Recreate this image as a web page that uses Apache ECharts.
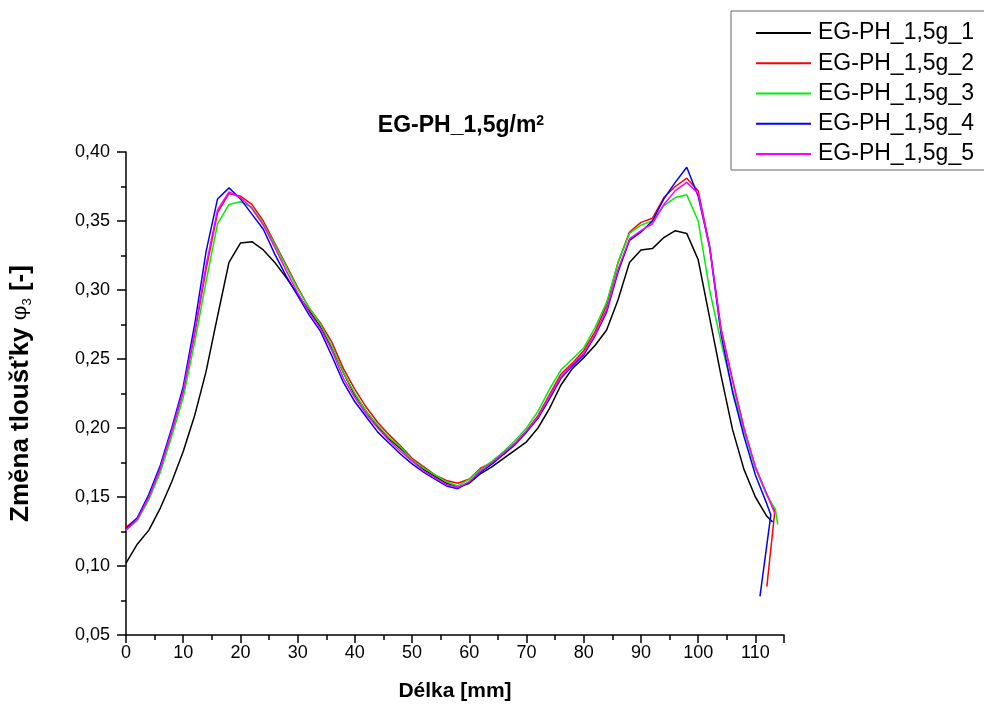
<!DOCTYPE html>
<html>
<head>
<meta charset="utf-8">
<script src="https://cdn.jsdelivr.net/npm/echarts@6/dist/echarts.min.js"></script>
<style>html,body{margin:0;padding:0;background:#fff;}#c{width:984px;height:711px;}</style>
</head>
<body>
<div id="c"></div>
<script>
const xValues = [0,2,4,6,8,10,12,14,16,18,20,22,24,26,28,30,32,34,36,38,40,42,44,46,48,50,52,54,56,58,60,62,64,66,68,70,72,74,76,78,80,82,84,86,88,90,92,94,96,98,100,102,104,106,108,110,112];
const seriesNames = ['EG-PH_1,5g_1','EG-PH_1,5g_2','EG-PH_1,5g_3','EG-PH_1,5g_4','EG-PH_1,5g_5'];
const seriesColors = ['#000000','#ff0000','#00ee00','#0000ff','#ff00ff'];

const s1 = [0.102,0.116,0.126,0.142,0.161,0.183,0.209,0.241,0.281,0.320,0.334,0.335,0.329,0.320,0.309,0.297,0.285,0.273,0.258,0.240,0.224,0.212,0.201,0.192,0.185,0.177,0.170,0.165,0.160,0.157,0.160,0.167,0.172,0.178,0.184,0.190,0.200,0.214,0.231,0.243,0.251,0.260,0.271,0.293,0.320,0.329,0.330,0.338,0.343,0.341,0.322,0.280,0.238,0.199,0.170,0.150,0.136];
const s1TailX = [113];
const s1TailY = [0.132];

const s2 = [0.128,0.135,0.150,0.170,0.197,0.226,0.268,0.315,0.356,0.370,0.368,0.362,0.350,0.334,0.318,0.302,0.287,0.276,0.262,0.243,0.228,0.215,0.204,0.195,0.187,0.178,0.172,0.166,0.162,0.160,0.163,0.171,0.175,0.181,0.189,0.198,0.209,0.224,0.239,0.247,0.256,0.270,0.289,0.320,0.342,0.349,0.352,0.367,0.375,0.381,0.372,0.332,0.272,0.235,0.200,0.171,0.152];
const s2TailX = [113.4, 112];
const s2TailY = [0.140, 0.085];

const s3 = [0.126,0.133,0.148,0.168,0.194,0.222,0.262,0.306,0.348,0.362,0.364,0.360,0.348,0.333,0.317,0.301,0.287,0.275,0.259,0.240,0.225,0.212,0.202,0.193,0.186,0.177,0.171,0.166,0.161,0.158,0.163,0.170,0.176,0.183,0.191,0.200,0.212,0.228,0.242,0.250,0.258,0.273,0.291,0.320,0.341,0.347,0.350,0.361,0.367,0.369,0.350,0.300,0.262,0.228,0.198,0.171,0.151];
const s3TailX = [113.5, 113.9];
const s3TailY = [0.141, 0.130];

const s4 = [0.127,0.135,0.152,0.173,0.200,0.230,0.275,0.328,0.366,0.374,0.366,0.355,0.344,0.326,0.310,0.296,0.282,0.270,0.252,0.233,0.219,0.208,0.197,0.189,0.181,0.174,0.168,0.163,0.158,0.156,0.161,0.168,0.174,0.181,0.188,0.197,0.207,0.221,0.236,0.245,0.253,0.267,0.284,0.313,0.336,0.342,0.350,0.366,0.378,0.389,0.368,0.331,0.268,0.226,0.194,0.166,0.145];
const s4TailX = [112.7, 110.8];
const s4TailY = [0.137, 0.078];

const s5 = [0.126,0.134,0.150,0.171,0.198,0.227,0.270,0.318,0.358,0.371,0.367,0.359,0.347,0.331,0.314,0.298,0.284,0.272,0.256,0.236,0.222,0.210,0.200,0.191,0.183,0.176,0.169,0.164,0.159,0.157,0.161,0.169,0.175,0.182,0.189,0.198,0.208,0.223,0.237,0.246,0.254,0.268,0.286,0.315,0.337,0.343,0.348,0.362,0.372,0.378,0.370,0.331,0.271,0.234,0.200,0.172,0.152];
const s5TailX = [113.4];
const s5TailY = [0.138];

const allY = [s1,s2,s3,s4,s5];
const allTailX = [s1TailX,s2TailX,s3TailX,s4TailX,s5TailX];
const allTailY = [s1TailY,s2TailY,s3TailY,s4TailY,s5TailY];

const FONT = 'Liberation Sans, Arial, sans-serif';

const series = seriesNames.map((name, k) => ({
  name: name,
  type: 'line',
  symbol: 'none',
  smooth: false,
  color: seriesColors[k],
  itemStyle: { color: seriesColors[k] },
  lineStyle: { width: 1.5, color: seriesColors[k] },
  data: xValues.map((x, i) => [x, allY[k][i]]).concat(allTailX[k].map((x, i) => [x, allTailY[k][i]])),
  z: 2 + k
}));

const chart = echarts.init(document.getElementById('c'), null, { renderer: 'canvas' });
chart.setOption({
  animation: false,
  backgroundColor: '#ffffff',
  title: {
    text: '{a|EG-PH_1,5g/m}{b|2}',
    left: 456,
    top: 109,
    textAlign: 'center',
    textStyle: {
      rich: {
        a: { fontFamily: FONT, fontWeight: 'bold', fontSize: 23, color: '#000' },
        b: { fontFamily: FONT, fontWeight: 'bold', fontSize: 14, color: '#000', verticalAlign: 'top', padding: [0,0,8,0] }
      }
    }
  },
  legend: {
    orient: 'vertical',
    left: 731,
    top: 11,
    padding: [9, 60, 3, 25],
    borderColor: '#666',
    borderWidth: 1,
    itemWidth: 55,
    itemHeight: 2,
    itemGap: 4.25,
    textStyle: { fontFamily: FONT, fontSize: 23, color: '#000', lineHeight: 26, padding: [0,0,0,2] },
    data: seriesNames.map(n => ({ name: n, icon: 'rect' }))
  },
  grid: { left: 125, top: 152, width: 659, height: 483, containLabel: false },
  xAxis: {
    type: 'value',
    min: 0,
    max: 115,
    interval: 10,
    name: 'Délka [mm]',
    nameLocation: 'middle',
    nameGap: 46,
    nameTextStyle: { fontFamily: FONT, fontWeight: 'bold', fontSize: 21, color: '#000' },
    axisLine: { show: true, onZero: false, lineStyle: { color: '#000', width: 1.5 } },
    axisTick: { show: true, length: 8, lineStyle: { color: '#000', width: 1.5 } },
    minorTick: { show: true, splitNumber: 2, length: 5, lineStyle: { color: '#000', width: 1.5 } },
    splitLine: { show: false },
    axisLabel: {
      fontFamily: FONT, fontSize: 18, color: '#000', margin: 9,
      formatter: v => (v > 110 ? '' : String(v))
    }
  },
  yAxis: {
    type: 'value',
    min: 0.05,
    max: 0.40,
    interval: 0.05,
    name: '{b|Změna tloušťky }{p|φ}{s|3}{b| [-]}',
    nameLocation: 'middle',
    nameRotate: 90,
    nameGap: 92,
    nameTextStyle: {
      rich: {
        b: { fontFamily: FONT, fontWeight: 'bold', fontSize: 26, color: '#000' },
        p: { fontFamily: 'DejaVu Serif, serif', fontSize: 21, color: '#000' },
        s: { fontFamily: FONT, fontSize: 13, color: '#000', verticalAlign: 'bottom', padding: [10,0,0,0] }
      }
    },
    axisLine: { show: true, onZero: false, lineStyle: { color: '#000', width: 1.5 } },
    axisTick: { show: true, length: 9, lineStyle: { color: '#000', width: 1.5 } },
    minorTick: { show: true, splitNumber: 2, length: 5, lineStyle: { color: '#000', width: 1.5 } },
    splitLine: { show: false },
    axisLabel: {
      fontFamily: FONT, fontSize: 18, color: '#000', margin: 16,
      formatter: v => v.toFixed(2).replace('.', ',')
    }
  },
  series: series
});
</script>
</body>
</html>
